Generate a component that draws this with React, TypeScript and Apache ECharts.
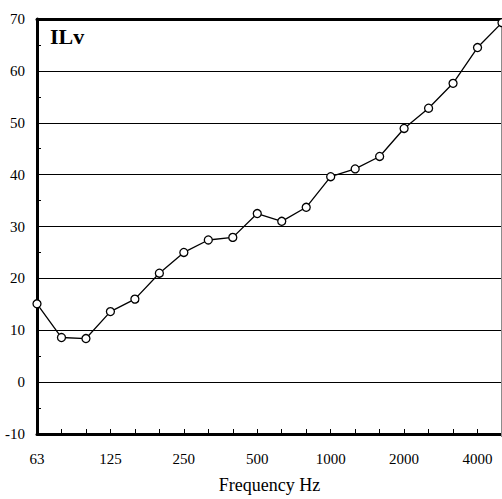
import React, { useEffect, useRef } from "react";
import * as echarts from "echarts";

const frequencies = ["63", "80", "100", "125", "160", "200", "250", "315", "400", "500", "630", "800", "1000", "1250", "1600", "2000", "2500", "3150", "4000", "5000"];
const ilvValues = [15.1, 8.6, 8.4, 13.6, 16.0, 21.0, 25.0, 27.4, 27.9, 32.5, 31.0, 33.7, 39.6, 41.1, 43.5, 48.9, 52.8, 57.6, 64.5, 69.3];
const yTicks = { min: -10, max: 70, interval: 10 };
const titleText = "ILv";
const xAxisName = "Frequency Hz";

const FONT = "'Times New Roman', 'Liberation Serif', serif";

export default function App() {
  const ref = useRef<HTMLDivElement>(null);
  useEffect(() => {
    if (!ref.current) return;
    const chart = echarts.init(ref.current, undefined, { renderer: "svg" });
    chart.setOption({
      animation: false,
      backgroundColor: "#ffffff",
      textStyle: { fontFamily: FONT },
      grid: { left: 37, top: 19, right: -2, bottom: 62, containLabel: false },
      title: {
        text: titleText,
        left: 50,
        top: 25,
        padding: 0,
        textStyle: { fontFamily: FONT, fontSize: 22, fontWeight: "bold", color: "#000" },
      },
      xAxis: [
        {
          type: "category",
          data: frequencies,
          boundaryGap: false,
          position: "bottom",
          axisLine: { show: true, onZero: false, lineStyle: { color: "#000", width: 3 } },
          axisTick: { show: true, inside: true, length: 5, interval: 0, lineStyle: { color: "#000", width: 1 } },
          axisLabel: { interval: 2, margin: 17, color: "#000", fontFamily: FONT, fontSize: 15 },
          splitLine: { show: false },
          name: xAxisName,
          nameLocation: "middle",
          nameGap: 42,
          nameTextStyle: { fontFamily: FONT, fontSize: 18, color: "#000" },
        },
        {
          type: "category",
          data: frequencies,
          boundaryGap: false,
          position: "top",
          axisLine: { show: true, onZero: false, lineStyle: { color: "#000", width: 3 } },
          axisTick: { show: false },
          axisLabel: { show: false },
          splitLine: { show: false },
        },
      ],
      yAxis: {
        type: "value",
        min: yTicks.min,
        max: yTicks.max,
        interval: yTicks.interval,
        axisLine: { show: true, onZero: false, lineStyle: { color: "#000", width: 3 } },
        axisTick: { show: false, inside: true, length: 4 },
        minorTick: { show: true, splitNumber: 2, length: 4, lineStyle: { color: "#000", width: 1 } },
        axisLabel: { margin: 12, color: "#000", fontFamily: FONT, fontSize: 15 },
        splitLine: { show: true, lineStyle: { color: "#000", width: 1 } },
      },
      graphic: [
        {
          type: "line",
          shape: { x1: 501.5, y1: 19, x2: 501.5, y2: 437 },
          style: { stroke: "#8c8c8c", lineWidth: 1 },
          z: 10,
        },
      ],
      series: [
        {
          type: "line",
          data: ilvValues,
          xAxisIndex: 0,
          symbol: "circle",
          symbolSize: 8,
          clip: false,
          lineStyle: { color: "#000", width: 1.3 },
          itemStyle: { color: "#fff", borderColor: "#000", borderWidth: 1.3 },
          z: 20,
        },
      ],
    });
    return () => chart.dispose();
  }, []);
  return (
    <div
      ref={ref}
      style={{ position: "fixed", left: 0, top: 0, width: 502, height: 499, background: "#fff" }}
    />
  );
}
